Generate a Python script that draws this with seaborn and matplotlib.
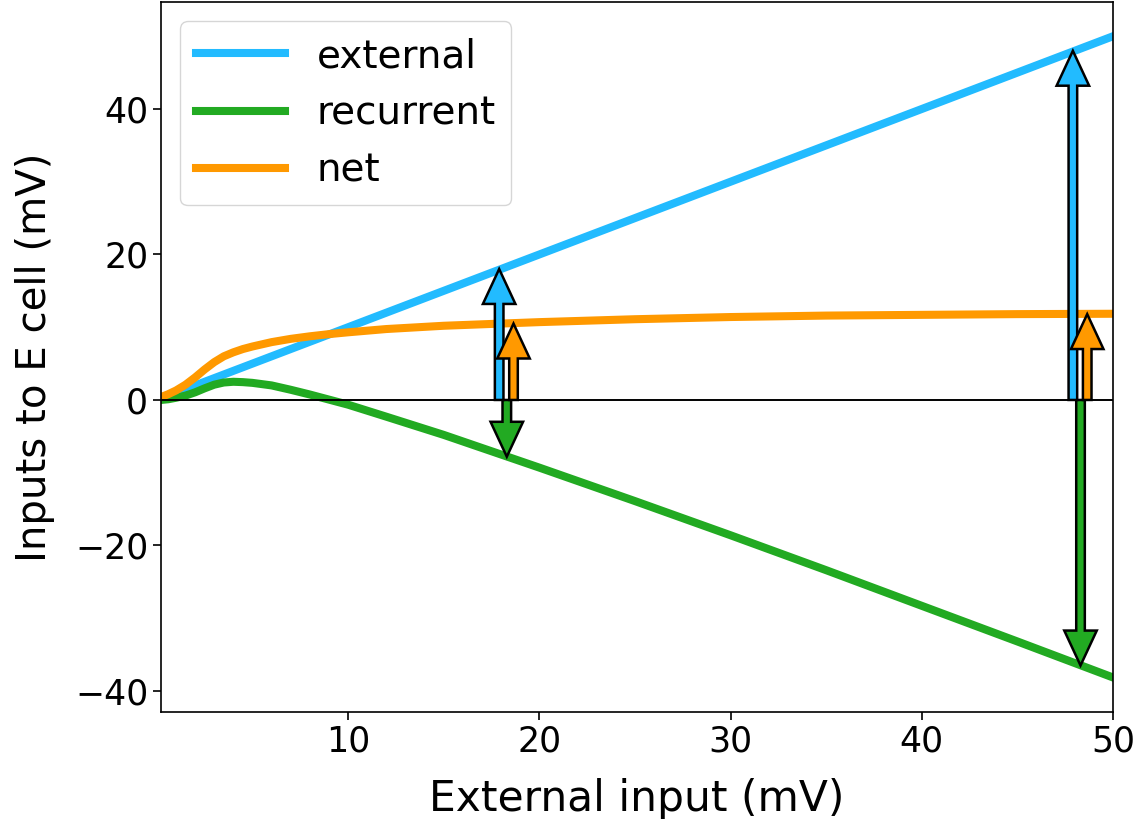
import matplotlib
matplotlib.use("Agg")
import matplotlib.pyplot as plt
import seaborn as sns

# values
x_input = [0.22, 0.6, 1.0, 1.5, 2.0, 2.5, 3.0, 3.5, 4.0, 4.5, 5.0, 6.0, 7.0, 8.0, 9.0,
           10, 12, 15, 18, 20, 25, 30, 35, 40, 45, 50]
external = [0.22, 0.6, 1.0, 1.5, 2.0, 2.5, 3.0, 3.5, 4.0, 4.5, 5.0, 6.0, 7.0, 8.0, 9.0,
            10, 12, 15, 18, 20, 25, 30, 35, 40, 45, 50]
net = [0.4, 0.8, 1.3, 2.1, 3.1, 4.2, 5.2, 6.0, 6.55, 7.0, 7.35, 7.95, 8.4, 8.75, 9.05,
       9.3, 9.75, 10.2, 10.5, 10.7, 11.1, 11.4, 11.6, 11.7, 11.8, 11.85]
recurrent = [0.0, 0.1, 0.3, 0.6, 1.05, 1.6, 2.1, 2.4, 2.5, 2.45, 2.35, 2.0, 1.4, 0.75, 0.05,
             -0.65, -2.3, -4.8, -7.5, -9.3, -13.9, -18.6, -23.4, -28.3, -33.2, -38.15]

# arrows at two input levels
arrow_x = [18.3, 48.3]
arrow_ext = [18.0, 48.0]
arrow_net = [10.5, 11.8]
arrow_rec = [-7.8, -36.5]

c_ext = "#22BBFF"
c_rec = "#22AA22"
c_net = "#FF9900"

fig = plt.figure(figsize=(11.39, 8.19), dpi=100)
ax = fig.add_axes([0.1414, 0.1306, 0.8358, 0.8669])

sns.lineplot(x=x_input, y=external, color=c_ext, lw=5.8, label="external", ax=ax)
sns.lineplot(x=x_input, y=recurrent, color=c_rec, lw=5.8, label="recurrent", ax=ax)
sns.lineplot(x=x_input, y=net, color=c_net, lw=5.8, label="net", ax=ax)
ax.axhline(0, color="black", lw=1.4, zorder=2.5)

arrow_kw = dict(width=0.45, head_width=1.7, head_length=4.8,
                length_includes_head=True, ec="black", lw=1.8, zorder=4)
for xa, e, n, r in zip(arrow_x, arrow_ext, arrow_net, arrow_rec):
    ax.arrow(xa, 0, 0, r, fc=c_rec, **arrow_kw)
    ax.arrow(xa - 0.4, 0, 0, e, fc=c_ext, **arrow_kw)
    ax.arrow(xa + 0.35, 0, 0, n, fc=c_net, **arrow_kw)

ax.set_xlim(0.22, 50)
ax.set_ylim(-42.9, 54.7)
ax.set_xticks([10, 20, 30, 40, 50])
ax.set_yticks([-40, -20, 0, 20, 40])
ax.tick_params(labelsize=25, length=5.8, width=1.2)
for s in ax.spines.values():
    s.set_linewidth(1.2)

ax.set_xlabel("External input (mV)", fontsize=30.5, labelpad=14)
ax.set_ylabel("Inputs to E cell (mV)", fontsize=29, labelpad=14)
ax.legend(loc="upper left", fontsize=28, handlelength=2.3)

fig.savefig("out.png", dpi=100)
